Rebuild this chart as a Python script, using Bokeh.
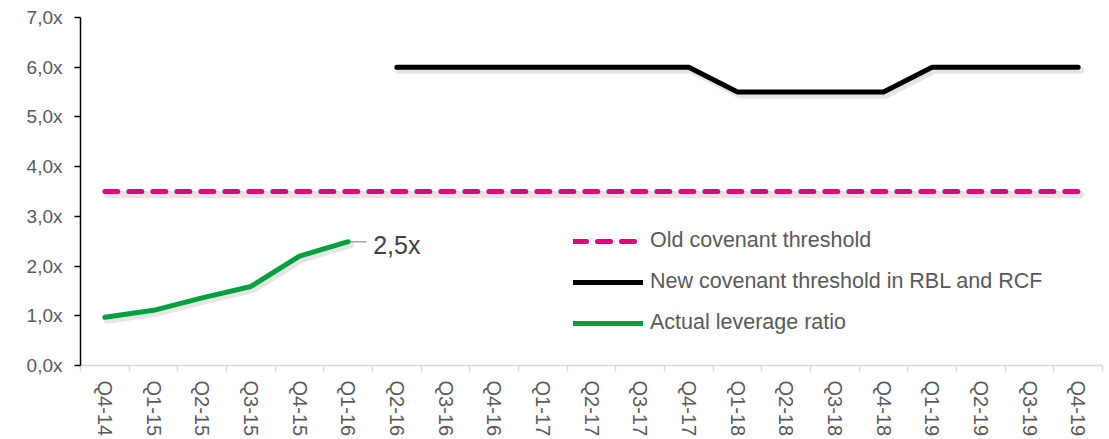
from bokeh.plotting import figure
from bokeh.models import FixedTicker, Range1d, Legend, LegendItem, ColumnDataSource
from bokeh.transform import dodge
from bokeh.embed import file_html
from bokeh.resources import INLINE
from bokeh.core.properties import value

quarters = ["Q4-14", "Q1-15", "Q2-15", "Q3-15", "Q4-15", "Q1-16", "Q2-16", "Q3-16",
            "Q4-16", "Q1-17", "Q2-17", "Q3-17", "Q4-17", "Q1-18", "Q2-18", "Q3-18",
            "Q4-18", "Q1-19", "Q2-19", "Q3-19", "Q4-19"]
old_threshold = [3.5, 3.5, 3.5, 3.5, 3.5, 3.5, 3.5, 3.5, 3.5, 3.5, 3.5,
                 3.5, 3.5, 3.5, 3.5, 3.5, 3.5, 3.5, 3.5, 3.5, 3.5]
new_quarters = quarters[6:]
new_threshold = [6.0, 6.0, 6.0, 6.0, 6.0, 6.0, 6.0, 5.5, 5.5, 5.5, 5.5, 6.0, 6.0, 6.0, 6.0]
actual_quarters = quarters[:6]
actual_leverage = [0.97, 1.11, 1.36, 1.59, 2.20, 2.49]
y_ticks = [0, 1, 2, 3, 4, 5, 6, 7]
y_tick_labels = ["0,0x", "1,0x", "2,0x", "3,0x", "4,0x", "5,0x", "6,0x", "7,0x"]
end_label = "2,5x"

FONT = "Liberation Sans"
GRAY = "#595959"
PINK = "#E6007E"
GREEN = "#00A03C"

pos = {q: i for i, q in enumerate(quarters)}

old_src = ColumnDataSource(dict(x=[pos[q] for q in quarters], y=old_threshold))
new_src = ColumnDataSource(dict(x=[pos[q] for q in new_quarters], y=new_threshold))
act_src = ColumnDataSource(dict(x=[pos[q] for q in actual_quarters], y=actual_leverage))

p = figure(width=1106, height=439, output_backend="svg", toolbar_location=None,
           x_range=Range1d(-0.5, len(quarters) - 0.5), y_range=Range1d(0, 7),
           min_border_left=80, min_border_right=4, min_border_top=17, min_border_bottom=73)
p.outline_line_color = None
p.xgrid.grid_line_color = None
p.ygrid.grid_line_color = None
p.background_fill_color = "white"
p.border_fill_color = "white"

# shadows
for src in [old_src, new_src, act_src]:
    p.line(dodge("x", 0.05), dodge("y", -0.06), source=src, line_color="#000000",
           line_alpha=0.10, line_width=7, line_cap="round", line_join="round")

r_old = p.line("x", "y", source=old_src, line_color=PINK, line_width=5,
               line_dash="13 11", line_cap="round", line_join="round")
r_new = p.line("x", "y", source=new_src, line_color="black", line_width=5,
               line_cap="round", line_join="round")
r_act = p.line("x", "y", source=act_src, line_color=GREEN, line_width=5,
               line_cap="round", line_join="round")

# end label with leader line
lab_src = ColumnDataSource(dict(x=[pos[actual_quarters[-1]]], y=[actual_leverage[-1]], t=[end_label]))
p.segment(x0=dodge("x", 0.05), y0="y", x1=dodge("x", 0.38), y1="y", source=lab_src,
          line_color="#a6a6a6", line_width=1.5)
p.text("x", "y", text="t", source=lab_src, x_offset=25, y_offset=3,
       text_font=value(FONT), text_font_size="25px", text_color="#404040",
       text_baseline="middle", text_align="left")

# x axis
xa = p.xaxis[0]
xa.ticker = FixedTicker(ticks=list(range(len(quarters))),
                        minor_ticks=[i - 0.5 for i in range(len(quarters) + 1)])
xa.major_label_overrides = {i: q for i, q in enumerate(quarters)}
xa.major_label_orientation = "vertical"
xa.major_label_text_font = FONT
xa.major_label_text_font_size = "20px"
xa.major_label_text_color = GRAY
xa.major_label_standoff = 9
xa.axis_line_color = "#d9d9d9"
xa.axis_line_width = 1.5
xa.major_tick_line_color = None
xa.major_tick_out = 0
xa.major_tick_in = 0
xa.minor_tick_line_color = "#d9d9d9"
xa.minor_tick_line_width = 1.5
xa.minor_tick_out = 6
xa.minor_tick_in = 0

# y axis
ya = p.yaxis[0]
ya.ticker = FixedTicker(ticks=y_ticks, minor_ticks=[])
ya.major_label_overrides = {t: l for t, l in zip(y_ticks, y_tick_labels)}
ya.major_label_text_font = FONT
ya.major_label_text_font_size = "19px"
ya.major_label_text_color = GRAY
ya.major_label_standoff = 12
ya.axis_line_color = "black"
ya.axis_line_width = 1.5
ya.major_tick_line_color = "black"
ya.major_tick_line_width = 1.5
ya.major_tick_out = 6
ya.major_tick_in = 0
ya.minor_tick_line_color = None

legend = Legend(items=[
    LegendItem(label="Old covenant threshold", renderers=[r_old]),
    LegendItem(label="New covenant threshold in RBL and RCF", renderers=[r_new]),
    LegendItem(label="Actual leverage ratio", renderers=[r_act]),
], location=(493, 30))
legend.border_line_color = None
legend.background_fill_alpha = 0
legend.padding = 0
legend.margin = 0
legend.spacing = 16
legend.glyph_width = 70
legend.glyph_height = 24
legend.label_height = 24
legend.label_standoff = 7
legend.label_text_font = FONT
legend.label_text_font_size = "21.5px"
legend.label_text_color = GRAY
legend.label_text_baseline = "middle"
p.add_layout(legend, "center")

open("out.html", "w").write(file_html(p, INLINE))
